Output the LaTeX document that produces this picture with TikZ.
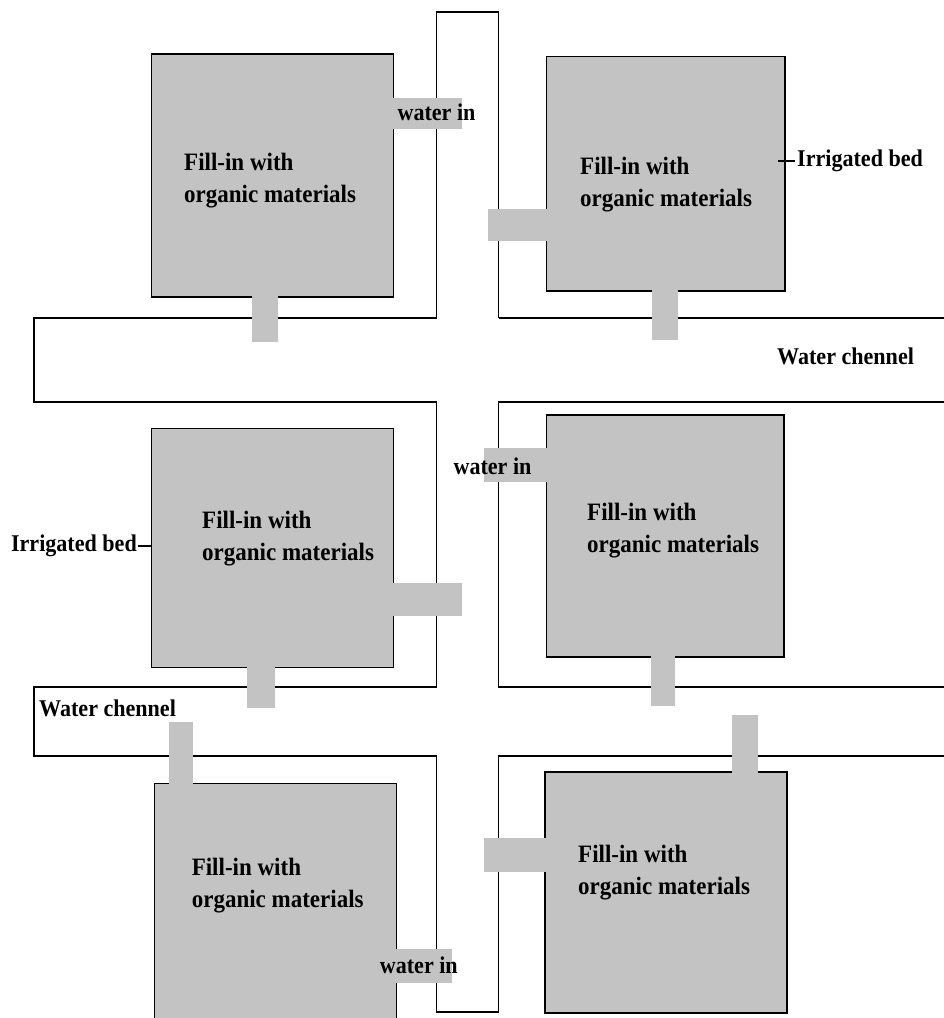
\documentclass[tikz,border=0pt]{standalone}
\usepackage{fontspec}
\setmainfont{Liberation Serif}[FakeStretch=0.92]
\definecolor{bedgray}{RGB}{195,195,195}
\begin{document}
\begin{tikzpicture}[x=1pt,y=-1pt,
  chan/.style={line width=1.5pt, line join=miter},
  bed/.style={draw=black, line width=1.5pt, fill=bedgray, anchor=north west, inner sep=0pt},
  tab/.style={fill=bedgray, anchor=north west, inner sep=0pt},
  bedtext/.style={font=\fontsize{25}{32}\selectfont\bfseries, inner sep=0pt, align=left, anchor=west},
  side/.style={font=\fontsize{24}{28}\selectfont\bfseries, inner sep=0pt},
  tick/.style={line width=1.2pt}]
\useasboundingbox (0,0) rectangle (944,1018);
% channels
\draw[chan] (436.5,318) -- (436.5,12) -- (498.5,12) -- (498.5,318);
\draw[chan] (498.5,318) -- (944,318);
\draw[chan] (436.5,318) -- (34,318) -- (34,402) -- (436.5,402) -- (436.5,687) -- (34,687) -- (34,756) -- (436.5,756) -- (436.5,1012) -- (498.5,1012) -- (498.5,756) -- (944,756);
\draw[chan] (944,402) -- (498.5,402) -- (498.5,687) -- (944,687);
% beds
\node[bed, minimum width=242.2pt, minimum height=243pt] (b1) at (150.6,53) {};
\node[bed, minimum width=238.2pt, minimum height=234.3pt] (b2) at (545.8,55.7) {};
\node[bed, minimum width=242.2pt, minimum height=239pt] (b3) at (150.6,427.7) {};
\node[bed, minimum width=237.2pt, minimum height=242pt] (b4) at (545.8,414) {};
\node[bed, minimum width=242.2pt, minimum height=236pt] (b5) at (153.6,782.7) {};
\node[bed, minimum width=242pt, minimum height=241pt] (b6) at (544,771) {};
% tabs
\node[tab, minimum width=71pt, minimum height=31.3pt] (t1) at (391,97.7) {};
\node[tab, minimum width=60pt, minimum height=32pt] (t2) at (488,209) {};
\node[tab, minimum width=26pt, minimum height=48pt] (t3) at (252,294) {};
\node[tab, minimum width=26pt, minimum height=52pt] (t4) at (652,288) {};
\node[tab, minimum width=64.3pt, minimum height=33.7pt] (t5) at (483.7,448) {};
\node[tab, minimum width=71pt, minimum height=32.7pt] (t6) at (391,583) {};
\node[tab, minimum width=28pt, minimum height=43pt] (t7) at (247,665) {};
\node[tab, minimum width=24.1pt, minimum height=51.7pt] (t8) at (650.6,654) {};
\node[tab, minimum width=24.1pt, minimum height=63.3pt] (t9) at (168.7,721.7) {};
\node[tab, minimum width=26pt, minimum height=58pt] (t10) at (732,715) {};
\node[tab, minimum width=62.3pt, minimum height=34pt] (t11) at (483.7,837.7) {};
\node[tab, minimum width=57.8pt, minimum height=34pt] (t12) at (394,949) {};
% bed texts
\node[bedtext] (f1) at (184,181) {Fill-in with\\organic materials};
\node[bedtext] (f2) at (580,185) {Fill-in with\\organic materials};
\node[bedtext] (f3) at (202,539) {Fill-in with\\organic materials};
\node[bedtext] (f4) at (587,531) {Fill-in with\\organic materials};
\node[bedtext] (f5) at (191.6,886) {Fill-in with\\organic materials};
\node[bedtext] (f6) at (578,873) {Fill-in with\\organic materials};
% water in
\node[side] (w1) at (436.5,112) {water in};
\node[side] (w2) at (492.5,466) {water in};
\node[side] (w3) at (418.8,965) {water in};
% channel labels
\node[side, anchor=west] (c1) at (777,356) {Water chennel};
\node[side, anchor=west] (c2) at (39,708) {Water chennel};
% irrigated bed labels
\node[side, anchor=west] (i1) at (797,161) {Irrigated bed};
\node[side, anchor=east] (i2) at (137,546) {Irrigated bed};
\draw[tick] ([xshift=-8pt]b2.east |- i1.west) -- ([xshift=-2pt]i1.west);
\draw[tick] ([xshift=1pt]i2.east) -- (b3.west |- i2.east);
\end{tikzpicture}
\end{document}
